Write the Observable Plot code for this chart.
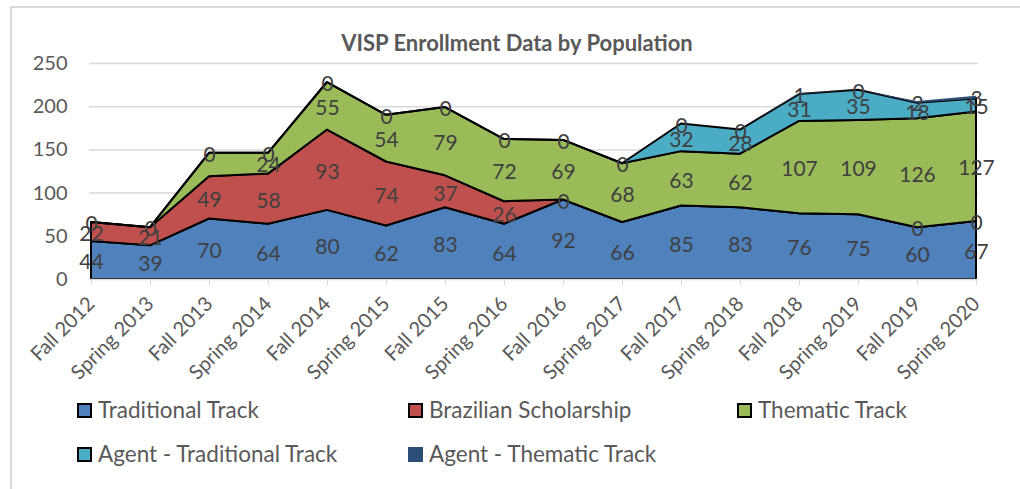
<!DOCTYPE html>
<html><head><meta charset="utf-8">
<script src="https://cdn.jsdelivr.net/npm/d3@7"></script>
<script src="https://cdn.jsdelivr.net/npm/@observablehq/plot@0.6"></script>
<style>
body{margin:0;background:#fff;}
#wrap{position:relative;width:1020px;height:489px;overflow:hidden;font-family:Lato,sans-serif;background:#fff;}
#border{position:absolute;left:10px;top:6px;width:1200px;height:700px;border:2px solid #d9d9d9;box-sizing:border-box;}
#title{position:absolute;left:0;width:1034px;top:30px;text-align:center;font-weight:bold;font-size:22px;color:#595959;line-height:26px;}
#chart{position:absolute;left:0;top:0;}
.item{position:absolute;display:flex;align-items:center;font-size:22.5px;color:#595959;white-space:nowrap;line-height:26px;}
.sw{width:11px;height:11px;border:2px solid #000;margin-right:6px;}
</style></head>
<body>
<div id="wrap">
  <div id="border"></div>
  <div id="chart"></div>
  <div id="title">VISP Enrollment Data by Population</div>
  <div id="legend"></div>
</div>
<script>
const categories = ["Fall 2012","Spring 2013","Fall 2013","Spring 2014","Fall 2014","Spring 2015","Fall 2015","Spring 2016","Fall 2016","Spring 2017","Fall 2017","Spring 2018","Fall 2018","Spring 2019","Fall 2019","Spring 2020"];
const traditionalTrack = [44,39,70,64,80,62,83,64,92,66,85,83,76,75,60,67];
const brazilianScholarship = [22,21,49,58,93,74,37,26,0,null,null,null,null,null,0,0];
const thematicTrack = [null,null,27,24,55,54,79,72,69,68,63,62,107,109,126,127];
const agentTraditional = [0,0,0,0,0,0,0,0,0,0,32,28,31,35,18,15];
const agentThematic = [null,null,null,null,null,null,null,null,null,null,0,0,1,0,2,3];
const seriesNames = ["Traditional Track","Brazilian Scholarship","Thematic Track","Agent - Traditional Track","Agent - Thematic Track"];
const seriesValues = [traditionalTrack, brazilianScholarship, thematicTrack, agentTraditional, agentThematic];
const seriesColors = ["#4f81bd","#c0504d","#9bbb59","#4bacc6","#2c4d75"];
const outlinedSeries = [true, true, true, true, false];
const unlabeledPoints = [["Thematic Track","Fall 2013"]];
const yTicks = [0,50,100,150,200,250];

const rows = [];
seriesNames.forEach((s, si) => {
  seriesValues[si].forEach((v, i) => {
    const hidden = unlabeledPoints.some(([ss, c]) => ss === s && c === categories[i]);
    rows.push({cat: categories[i], series: s, value: v == null ? 0 : v,
      label: (v == null || hidden) ? "" : String(v), outline: outlinedSeries[si] ? 1 : 0});
  });
});

const chart = Plot.plot({
  width: 1020,
  height: 400,
  marginLeft: 89,
  marginRight: 42,
  marginTop: 63,
  marginBottom: 121,
  style: {fontFamily: "Lato, sans-serif", background: "transparent", overflow: "visible"},
  x: {type: "point", domain: categories, padding: 0, label: null},
  y: {domain: [0, 250], label: null},
  color: {domain: seriesNames, range: seriesColors},
  opacity: {type: "identity"},
  marks: [
    Plot.ruleY(yTicks.slice(1), {stroke: "#d9d9d9", strokeWidth: 1.5}),
    Plot.areaY(rows, {x: "cat", y: "value", z: "series", fill: "series", fillOpacity: 1, stroke: "#000", strokeOpacity: "outline", strokeWidth: 2, strokeLinejoin: "round"}),
    Plot.ruleY([0], {stroke: "#d9d9d9", strokeWidth: 1.5}),
    Plot.axisX({tickRotate: -45, tickSize: 6, tickPadding: 15, stroke: "#d9d9d9", fill: "#595959", fontSize: 20, label: null}),
    Plot.axisY(yTicks, {tickSize: 0, tickPadding: 22, fill: "#595959", fontSize: 20, label: null}),
    Plot.text(rows, Plot.stackY({x: "cat", y: "value", z: "series", text: "label", fill: "#404040", fontSize: 21, dy: 2}))
  ]
});
document.getElementById("chart").appendChild(chart);

const legendPos = [[77,410],[408,410],[737,410],[77,454],[408,454]];
const legend = document.getElementById("legend");
seriesNames.forEach((s, i) => {
  const d = document.createElement("div");
  d.className = "item";
  d.style.left = legendPos[i][0] + "px";
  d.style.top = (legendPos[i][1] - 13) + "px";
  const sw = document.createElement("div");
  sw.className = "sw";
  sw.style.background = seriesColors[i];
  if (!outlinedSeries[i]) { sw.style.borderColor = seriesColors[i]; }
  d.appendChild(sw);
  const t = document.createElement("span");
  t.textContent = s;
  d.appendChild(t);
  legend.appendChild(d);
});
</script>
</body></html>
